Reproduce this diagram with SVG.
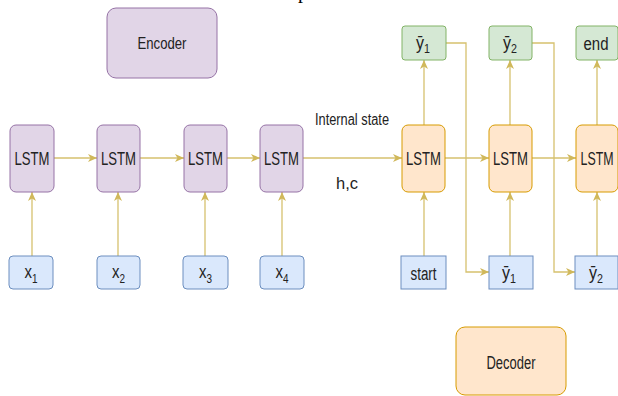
<svg xmlns="http://www.w3.org/2000/svg" width="618" height="396" viewBox="0 0 618 396">
<defs>
<marker id="arr" markerWidth="10" markerHeight="8" refX="9" refY="4" orient="auto" markerUnits="userSpaceOnUse">
<path d="M0,0 L9,4 L0,8 L2.5,4 Z" fill="#d0b85a"/>
</marker>
<style>
text{font-family:"Liberation Sans",Arial,"DejaVu Sans",sans-serif;fill:#222222;text-anchor:middle}
.enc{fill:#e1d5e7;stroke:#9673a6;stroke-width:1}
.dec{fill:#ffe6cc;stroke:#d79b00;stroke-width:1}
.out{fill:#d5e8d4;stroke:#82b366;stroke-width:1}
.inp{fill:#dae8fc;stroke:#6c8ebf;stroke-width:1}
.c{fill:none;stroke:#d6c16e;stroke-width:1.3;marker-end:url(#arr)}
.lbl{font-size:18px}
.sub{font-size:12px}
</style>
</defs>
<rect width="618" height="396" fill="#ffffff"/>
<text x="298" y="-2" style="font-family:'Liberation Serif',serif;font-size:20px;text-anchor:start;fill:#000">p</text>

<g id="connectors">
<path class="c" d="M54,158 H97"/>
<path class="c" d="M140,158 H184"/>
<path class="c" d="M227,158 H260"/>
<path class="c" d="M303,158 H402"/>
<path class="c" d="M445,158 H489"/>
<path class="c" d="M532,158 H576"/>
<path class="c" d="M32,256 V192"/>
<path class="c" d="M118,256 V192"/>
<path class="c" d="M205,256 V192"/>
<path class="c" d="M282,256 V192"/>
<path class="c" d="M424,256 V192"/>
<path class="c" d="M510,256 V192"/>
<path class="c" d="M597,256 V192"/>
<path class="c" d="M424,125 V60"/>
<path class="c" d="M510,125 V60"/>
<path class="c" d="M597,125 V60"/>
<path class="c" d="M446,43 H466 V272 H489"/>
<path class="c" d="M532,43 H554 V272 H575"/>
</g>

<g id="encoder-label">
<rect class="enc" x="107" y="8" width="110" height="70" rx="9"/>
<text x="162" y="49" style="font-size:17px" textLength="49" lengthAdjust="spacingAndGlyphs">Encoder</text>
</g>
<g id="decoder-label">
<rect class="dec" x="456" y="327" width="110" height="68" rx="9"/>
<text x="511" y="369" style="font-size:18px" textLength="49" lengthAdjust="spacingAndGlyphs">Decoder</text>
</g>

<g id="enc-lstm1"><rect class="enc" x="10" y="125" width="44" height="67" rx="6"/><text class="lbl" x="32" y="165" textLength="35" lengthAdjust="spacingAndGlyphs">LSTM</text></g>
<g id="enc-lstm2"><rect class="enc" x="97" y="125" width="43" height="67" rx="6"/><text class="lbl" x="118.5" y="165" textLength="35" lengthAdjust="spacingAndGlyphs">LSTM</text></g>
<g id="enc-lstm3"><rect class="enc" x="184" y="125" width="43" height="67" rx="6"/><text class="lbl" x="205.5" y="165" textLength="35" lengthAdjust="spacingAndGlyphs">LSTM</text></g>
<g id="enc-lstm4"><rect class="enc" x="260" y="125" width="43" height="67" rx="6"/><text class="lbl" x="281.5" y="165" textLength="35" lengthAdjust="spacingAndGlyphs">LSTM</text></g>

<g id="dec-lstm1"><rect class="dec" x="402" y="125" width="43" height="67" rx="6"/><text class="lbl" x="423.5" y="165" textLength="35" lengthAdjust="spacingAndGlyphs">LSTM</text></g>
<g id="dec-lstm2"><rect class="dec" x="489" y="125" width="43" height="67" rx="6"/><text class="lbl" x="510.5" y="165" textLength="35" lengthAdjust="spacingAndGlyphs">LSTM</text></g>
<g id="dec-lstm3"><rect class="dec" x="576" y="125" width="42" height="67" rx="6"/><text class="lbl" x="597" y="165" textLength="33" lengthAdjust="spacingAndGlyphs">LSTM</text></g>

<g id="x1"><rect class="inp" x="9" y="256" width="44" height="33" rx="4"/><text x="31" y="278" textLength="13" lengthAdjust="spacingAndGlyphs"><tspan class="lbl">x</tspan><tspan class="sub" dy="5">1</tspan></text></g>
<g id="x2"><rect class="inp" x="97" y="256" width="43" height="33" rx="4"/><text x="118.5" y="278" textLength="13" lengthAdjust="spacingAndGlyphs"><tspan class="lbl">x</tspan><tspan class="sub" dy="5">2</tspan></text></g>
<g id="x3"><rect class="inp" x="183" y="256" width="45" height="33" rx="4"/><text x="205.5" y="278" textLength="13" lengthAdjust="spacingAndGlyphs"><tspan class="lbl">x</tspan><tspan class="sub" dy="5">3</tspan></text></g>
<g id="x4"><rect class="inp" x="260" y="256" width="44" height="33" rx="4"/><text x="282" y="278" textLength="13" lengthAdjust="spacingAndGlyphs"><tspan class="lbl">x</tspan><tspan class="sub" dy="5">4</tspan></text></g>

<g id="start"><rect class="inp" x="401" y="256" width="45" height="33"/><text class="lbl" x="423.5" y="280" textLength="26" lengthAdjust="spacingAndGlyphs">start</text></g>
<g id="in-y1"><rect class="inp" x="489" y="256" width="44" height="33"/><text x="509" y="279" textLength="14" lengthAdjust="spacingAndGlyphs"><tspan class="lbl">ȳ</tspan><tspan class="sub" dy="4">1</tspan></text></g>
<g id="in-y2"><rect class="inp" x="575" y="256" width="43" height="33"/><text x="596" y="279" textLength="14" lengthAdjust="spacingAndGlyphs"><tspan class="lbl">ȳ</tspan><tspan class="sub" dy="4">2</tspan></text></g>

<g id="out-y1"><rect class="out" x="402" y="26" width="44" height="34" rx="3"/><text x="423" y="49" textLength="14" lengthAdjust="spacingAndGlyphs"><tspan class="lbl">ȳ</tspan><tspan class="sub" dy="4">1</tspan></text></g>
<g id="out-y2"><rect class="out" x="489" y="26" width="43" height="34" rx="3"/><text x="510" y="49" textLength="14" lengthAdjust="spacingAndGlyphs"><tspan class="lbl">ȳ</tspan><tspan class="sub" dy="4">2</tspan></text></g>
<g id="out-end"><rect class="out" x="576" y="26" width="42" height="34" rx="3"/><text class="lbl" x="596" y="50" textLength="25" lengthAdjust="spacingAndGlyphs">end</text></g>

<g id="state-labels">
<text x="352" y="125" style="font-size:16px" textLength="74" lengthAdjust="spacingAndGlyphs">Internal state</text>
<text x="347" y="189" style="font-size:16px" textLength="22" lengthAdjust="spacingAndGlyphs">h,c</text>
</g>
</svg>
